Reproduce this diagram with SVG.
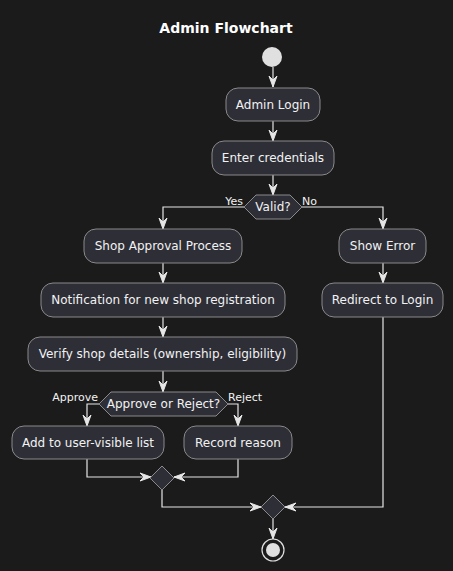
<svg xmlns="http://www.w3.org/2000/svg" width="453" height="571" viewBox="0 0 453 571">
<defs>
<style>
.bg{fill:#1b1b1b}
.box{fill:#2e2e37;stroke:#8a8a8a;stroke-width:1}
.t{font-family:"DejaVu Sans",sans-serif;font-size:12px;fill:#f2f2f2;text-anchor:middle}
.lbl{font-family:"DejaVu Sans",sans-serif;font-size:11px;fill:#f2f2f2}
.title{font-family:"DejaVu Sans",sans-serif;font-size:14px;font-weight:bold;fill:#ffffff;text-anchor:middle}
.ln{fill:none;stroke:#e6e6e6;stroke-width:1.2}
.ah{fill:#e6e6e6;stroke:#e6e6e6;stroke-width:1}
</style>
<marker id="arr" viewBox="0 0 12 10" refX="11" refY="5" markerWidth="12" markerHeight="10" orient="auto" markerUnits="userSpaceOnUse">
<path d="M0,1 L11,5 L0,9 L4,5 Z" class="ah"/>
</marker>
</defs>
<rect class="bg" x="0" y="0" width="453" height="571"/>
<text class="title" x="226" y="33">Admin Flowchart</text>

<g id="connectors">
<path class="ln" d="M273,67 V87" marker-end="url(#arr)"/>
<path class="ln" d="M273,121 V141" marker-end="url(#arr)"/>
<path class="ln" d="M273,175 V195" marker-end="url(#arr)"/>
<path class="ln" d="M244,207 H163 V229" marker-end="url(#arr)"/>
<path class="ln" d="M302,207 H383 V229" marker-end="url(#arr)"/>
<path class="ln" d="M163,263 V283" marker-end="url(#arr)"/>
<path class="ln" d="M383,263 V283" marker-end="url(#arr)"/>
<path class="ln" d="M163,317 V337" marker-end="url(#arr)"/>
<path class="ln" d="M163,371 V392" marker-end="url(#arr)"/>
<path class="ln" d="M99,404 H87 V426" marker-end="url(#arr)"/>
<path class="ln" d="M228,404 H238 V426" marker-end="url(#arr)"/>
<path class="ln" d="M87,459 V477 H151" marker-end="url(#arr)"/>
<path class="ln" d="M238,459 V477 H174" marker-end="url(#arr)"/>
<path class="ln" d="M162,489 V507 H261" marker-end="url(#arr)"/>
<path class="ln" d="M383,317 V507 H285" marker-end="url(#arr)"/>
<path class="ln" d="M273,519 V539" marker-end="url(#arr)"/>
<text class="lbl" x="243" y="205" text-anchor="end">Yes</text>
<text class="lbl" x="302" y="205">No</text>
<text class="lbl" x="98" y="401" text-anchor="end">Approve</text>
<text class="lbl" x="228" y="401">Reject</text>
</g>

<g id="start"><circle cx="272" cy="57" r="10" fill="#e0e0e0"/></g>

<g id="admin-login">
<rect class="box" x="226" y="88" width="94" height="33" rx="12"/>
<text class="t" x="273" y="109">Admin Login</text>
</g>
<g id="enter-credentials">
<rect class="box" x="212" y="141" width="122" height="34" rx="12"/>
<text class="t" x="273" y="162">Enter credentials</text>
</g>
<g id="valid">
<polygon class="box" points="244,207 256,195 290,195 302,207 290,219 256,219"/>
<text class="t" x="273" y="211">Valid?</text>
</g>
<g id="shop-approval">
<rect class="box" x="84" y="229" width="158" height="34" rx="12"/>
<text class="t" x="163" y="250">Shop Approval Process</text>
</g>
<g id="show-error">
<rect class="box" x="339" y="229" width="87" height="34" rx="12"/>
<text class="t" x="382.5" y="250">Show Error</text>
</g>
<g id="notification">
<rect class="box" x="41" y="283" width="244" height="34" rx="12"/>
<text class="t" x="163" y="304">Notification for new shop registration</text>
</g>
<g id="redirect">
<rect class="box" x="322" y="283" width="121" height="34" rx="12"/>
<text class="t" x="382.5" y="304">Redirect to Login</text>
</g>
<g id="verify">
<rect class="box" x="28" y="337" width="269" height="34" rx="12"/>
<text class="t" x="162.5" y="358">Verify shop details (ownership, eligibility)</text>
</g>
<g id="approve-reject">
<polygon class="box" points="99,404 111,392 216,392 228,404 216,416 111,416"/>
<text class="t" x="163.5" y="408">Approve or Reject?</text>
</g>
<g id="add-list">
<rect class="box" x="12" y="426" width="152" height="33" rx="12"/>
<text class="t" x="88" y="447">Add to user-visible list</text>
</g>
<g id="record-reason">
<rect class="box" x="184" y="426" width="108" height="33" rx="12"/>
<text class="t" x="238" y="447">Record reason</text>
</g>
<g id="merge1">
<polygon class="box" points="162,466 174,478 162,490 150,478"/>
</g>
<g id="merge2">
<polygon class="box" points="273,495 285,507 273,519 261,507"/>
</g>
<g id="end">
<circle cx="273" cy="550" r="11" fill="none" stroke="#e0e0e0" stroke-width="1.2"/>
<circle cx="273" cy="550" r="7" fill="#e0e0e0"/>
</g>
</svg>
